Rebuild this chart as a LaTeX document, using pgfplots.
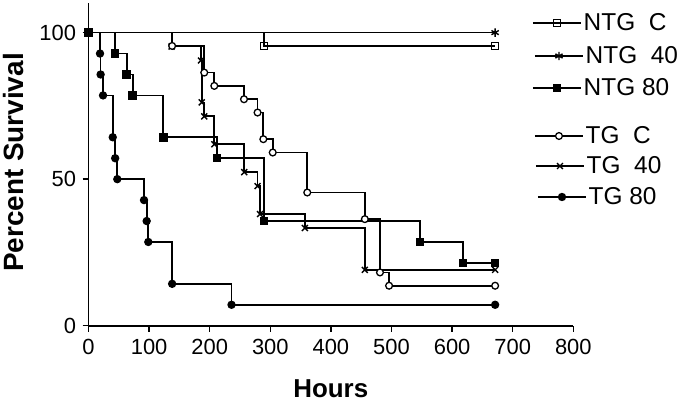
\documentclass[border=0pt]{standalone}
\usepackage{fontspec}
\setmainfont{Liberation Sans}
\usepackage{pgfplots}
\usepackage{pgfplotstable}
\pgfplotsset{compat=1.18}
\pgfplotstableread{
h s
0 100
19 92.86
20 85.71
24 78.57
40 64.29
44 57.14
47.5 50
91.6 42.86
96 35.71
98.7 28.57
138 14.29
236 7.14
671 7.14
}\tgeighty
\pgfplotstableread{
h s
0 100
137 95.24
185.6 90.48
186.8 76.19
191 71.43
207.6 61.90
257 52.38
279 47.62
283 38.10
357 33.33
456 19.05
671 19.05
}\tgforty
\pgfplotstableread{
h s
0 100
138 95.45
191 86.36
207.6 81.82
256.6 77.27
279 72.73
288.5 63.64
304 59.09
361 45.45
456 36.36
481 18.18
496 13.64
671 13.64
}\tgc
\pgfplotstableread{
h s
0 100
290 95.45
671 95.45
}\ntgc
\pgfplotstableread{
h s
0 100
671 100
}\ntgforty
\pgfplotstableread{
h s
0 100
43.7 92.86
63 85.71
73 78.57
123.4 64.29
212 57.14
290 35.71
547 28.57
618 21.43
671 21.43
}\ntgeighty
\begin{document}
\begin{tikzpicture}[x=1bp,y=1bp]
\useasboundingbox (0,0) rectangle (685,401);
\pgfplotsset{
  kmline/.style={const plot, black, line width=1.7bp, no marks},
  kmmarks/.style={only marks, black, mark repeat=1, mark phase=2},
  mNTGC/.style={mark=square, mark options={solid, fill=white, line width=1.3bp}, mark size=3.6bp},
  mNTG40/.style={mark=asterisk, mark options={solid, line width=1.4bp}, mark size=4.2bp},
  mNTG80/.style={mark=square*, mark options={solid, fill=black, line width=1.3bp}, mark size=3.6bp},
  mTGC/.style={mark=*, mark options={solid, fill=white, line width=1.3bp}, mark size=3.4bp},
  mTG40/.style={mark=x, mark options={solid, line width=1.4bp}, mark size=4.2bp},
  mTG80/.style={mark=*, mark options={solid, fill=black, line width=1.3bp}, mark size=3.5bp},
  base/.style={
    at={(88.5bp,75.3bp)}, anchor=south west,
    scale only axis, width=484.8bp, height=322.4bp,
    xmin=0, xmax=800, ymin=0, ymax=110,
    clip=false,
  },
  legend image code/.code={%
    \draw[black, line width=1.5bp] (0bp,0bp) -- (48bp,0bp);
    \draw[black, #1] plot[only marks] coordinates {(24bp,0bp)};},
}
\newcommand{\legentry}[4]{%
\begin{axis}[base, hide axis,
  legend style={draw=none, fill=none, at={(rel axis cs:#1,#2)}, anchor=west,
    font=\fontsize{24.5}{28}\selectfont,
    /tikz/every even column/.append style={column sep=7bp}},
  legend cell align=left]
\addlegendimage{#3}
\addlegendentry{#4}
\end{axis}}
\begin{axis}[base,
  axis lines=left,
  axis line style={-, line width=1.7bp, black},
  xtick={0,100,...,800}, ytick={0,50,100},
  tick align=outside, major tick length=6bp,
  tick style={line width=1.5bp, black},
  ticklabel style={font=\fontsize{22}{26}\selectfont},
  xticklabel style={yshift=-4bp},
  yticklabel style={xshift=-3bp},
  /pgf/number format/assume math mode=true,
]
\addplot[kmline] table {\tgeighty};
\addplot[kmline] table {\tgforty};
\addplot[kmline] table {\tgc};
\addplot[kmline] table {\ntgc};
\addplot[kmline] table {\ntgforty};
\addplot[kmline] table {\ntgeighty};
\addplot[kmmarks, mTG80] table {\tgeighty};
\addplot[kmmarks, mTG40] table {\tgforty};
\addplot[kmmarks, mTGC] table {\tgc};
\addplot[kmmarks, mNTGC] table {\ntgc};
\addplot[kmmarks, mNTG40] table {\ntgforty};
\addplot[kmmarks, mNTG80, mark phase=1] table {\ntgeighty};
\end{axis}
\legentry{0.9087}{0.9389}{mNTGC}{NTG\ \ C}
\legentry{0.9128}{0.8366}{mNTG40}{NTG\ \ 40}
\legentry{0.9087}{0.7373}{mNTG80}{NTG 80}
\legentry{0.9128}{0.5884}{mTGC}{TG\ \ C}
\legentry{0.9149}{0.4953}{mTG40}{TG\ \ 40}
\legentry{0.9190}{0.3992}{mTG80}{TG 80}
\node[anchor=base, font=\bfseries\fontsize{26}{30}\selectfont] at (330.8,4) {Hours};
\node[anchor=base, rotate=90, font=\bfseries\fontsize{28}{32}\selectfont] at (23.3,238.5) {Percent Survival};
\end{tikzpicture}
\end{document}
